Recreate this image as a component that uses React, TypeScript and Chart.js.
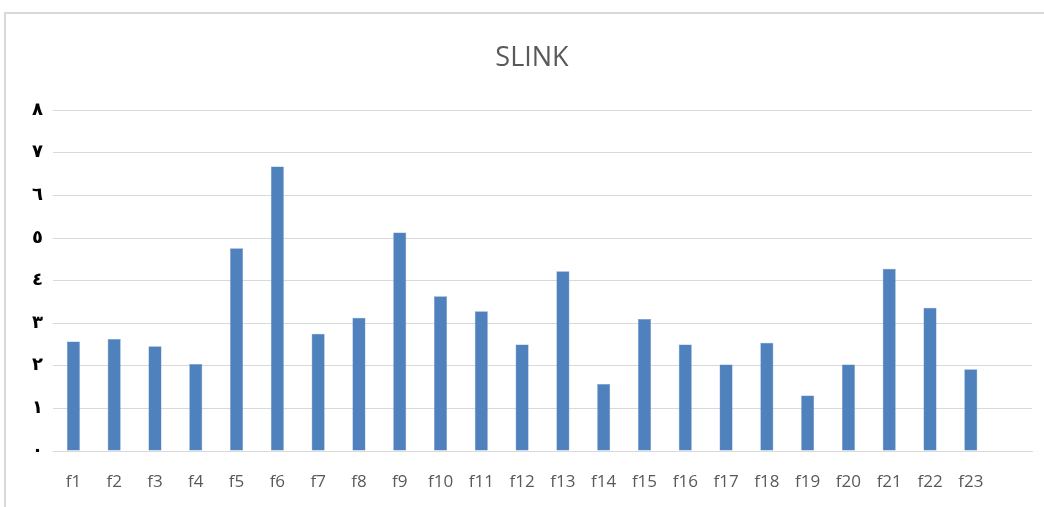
import React, { useEffect, useRef } from "react";
import { Chart, registerables } from "chart.js";

Chart.register(...registerables);

const categories = [
  "f1", "f2", "f3", "f4", "f5", "f6", "f7", "f8", "f9", "f10", "f11", "f12",
  "f13", "f14", "f15", "f16", "f17", "f18", "f19", "f20", "f21", "f22", "f23", "",
];

const slinkValues = [
  2.57, 2.63, 2.46, 2.04, 4.76, 6.68, 2.75, 3.13, 5.13, 3.63, 3.28, 2.5,
  4.22, 1.57, 3.1, 2.5, 2.03, 2.54, 1.3, 2.03, 4.28, 3.36, 1.92, null,
];

const yTickLabels = ["٠", "١", "٢", "٣", "٤", "٥", "٦", "٧", "٨"];

const chartTitle = "SLINK";

export default function App() {
  const canvasRef = useRef<HTMLCanvasElement | null>(null);

  useEffect(() => {
    document.body.style.margin = "0";
    document.body.style.overflow = "hidden";
    const canvas = canvasRef.current;
    if (!canvas) return;
    const chart = new Chart(canvas, {
      type: "bar",
      data: {
        labels: categories,
        datasets: [
          {
            label: chartTitle,
            data: slinkValues as any,
            backgroundColor: "#4f81bd",
            borderColor: "#6a94c8",
            borderWidth: 0.5,
            categoryPercentage: 1,
            barPercentage: 0.32,
          },
        ],
      },
      options: {
        animation: false,
        responsive: false,
        maintainAspectRatio: false,
        layout: { padding: { left: 32, right: 12, top: 0, bottom: 0 } },
        plugins: {
          legend: { display: false },
          tooltip: { enabled: false },
          title: {
            display: true,
            text: chartTitle,
            color: "#595959",
            font: { family: "'Open Sans'", size: 27, weight: "normal" },
            padding: { top: 42, bottom: 35.8 },
          },
        },
        scales: {
          x: {
            grid: { display: false, drawTicks: false },
            border: { display: true, color: "#d9d9d9", width: 1 },
            ticks: {
              color: "#595959",
              font: { family: "'Open Sans'", size: 17 },
              padding: 21,
              autoSkip: false,
              maxRotation: 0,
            },
            afterFit: (scale: any) => {
              scale.height = 56;
            },
          },
          y: {
            min: 0,
            max: 8,
            grid: { color: "#d9d9d9", lineWidth: 1, drawTicks: false },
            border: { display: false },
            ticks: {
              stepSize: 1,
              color: "#000000",
              padding: 10,
              font: { family: "'DejaVu Sans'", size: 18, weight: "bold" },
              callback: (value: any) => yTickLabels[Number(value)] ?? "",
            },
            afterFit: (scale: any) => {
              scale.width = 21;
            },
          },
        },
      },
    });
    return () => chart.destroy();
  }, []);

  return (
    <div
      style={{
        position: "fixed",
        left: 0,
        top: 0,
        width: 1044,
        height: 507,
        overflow: "hidden",
        background: "#ffffff",
      }}
    >
      <div
        style={{
          position: "absolute",
          left: 4,
          top: 12,
          width: 1200,
          height: 700,
          borderLeft: "2px solid #d9d9d9",
          borderTop: "2px solid #d9d9d9",
        }}
      />
      <canvas
        ref={canvasRef}
        width={1044}
        height={507}
        style={{ position: "absolute", left: 0, top: 0, width: 1044, height: 507 }}
      />
    </div>
  );
}
